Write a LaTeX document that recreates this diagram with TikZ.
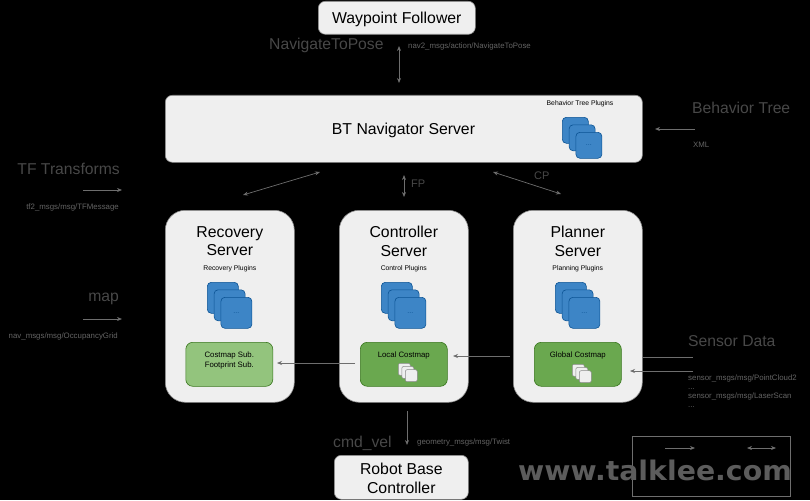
\documentclass[tikz,border=0pt]{standalone}
\usepackage{fontspec}
\setmainfont{Liberation Sans}
\newfontfamily\markfont{DejaVu Sans}
\usetikzlibrary{positioning, arrows.meta}
\definecolor{panel}{HTML}{EFEFEF}
\definecolor{panelline}{HTML}{8A8A8A}
\definecolor{plugin}{HTML}{3D85C6}
\definecolor{pluginline}{HTML}{0B5394}
\definecolor{costdark}{HTML}{6AA84F}
\definecolor{costlight}{HTML}{93C47D}
\definecolor{costline}{HTML}{38761D}
\definecolor{dimtext}{HTML}{484848}
\definecolor{smalltext}{HTML}{646464}
\definecolor{wire}{HTML}{6E6E6E}
\tikzstyle{panelbox} = [draw=panelline, fill=panel, line width=0.6pt, rectangle, rounded corners=7pt, inner sep=0pt, anchor=north west, align=center]
\tikzstyle{serverbox} = [panelbox, rounded corners=20pt, minimum width=129pt, minimum height=192pt]
\tikzstyle{costbox} = [draw=costline, line width=0.6pt, rectangle, rounded corners=7pt, anchor=north west, minimum width=87pt, minimum height=44pt]
\tikzstyle{plugincard} = [draw=pluginline, fill=plugin, line width=0.6pt, rectangle, rounded corners=4pt, inner sep=0pt, anchor=north west, font=\fontsize{7}{8}\selectfont, text=pluginline]
\tikzstyle{mapcard} = [draw=panelline, fill=panel, line width=0.5pt, rectangle, rounded corners=2pt, inner sep=0pt, anchor=north west, minimum size=12pt]
\tikzstyle{bigtitle} = [inner sep=0pt, align=center, text=black, font=\fontsize{15.8}{18.5}\selectfont]
\tikzstyle{smalltitle} = [inner sep=0pt, align=center, text=black, font=\fontsize{6.8}{9.5}\selectfont]
\tikzstyle{costtitle} = [smalltitle, font=\fontsize{7.8}{10}\selectfont]
\tikzstyle{dimlabel} = [inner sep=0pt, text=dimtext, font=\fontsize{15.7}{18}\selectfont]
\tikzstyle{msglabel} = [inner sep=0pt, text=smalltext, align=left, font=\fontsize{7.85}{9}\selectfont]
\tikzstyle{wireline} = [draw=wire, line width=0.7pt, -{Stealth[length=5pt,width=4pt]}]
\tikzstyle{twoway} = [wireline, {Stealth[length=5pt,width=4pt]}-{Stealth[length=5pt,width=4pt]}]
% three overlapping cards: name, x, y, size
\newcommand{\pluginstack}[4]{
	\node[plugincard, minimum width=#4pt, minimum height=#4pt] (#1a) at (#2,#3) {};
	\node[plugincard, minimum width=#4pt, minimum height=#4pt] (#1b) at (#2+6.8,#3+7.5) {};
	\node[plugincard, minimum width=#4pt, minimum height=#4pt] (#1c) at (#2+13.6,#3+15) {...};
}
\newcommand{\mapstack}[3]{
	\node[mapcard] (#1a) at (#2,#3) {};
	\node[mapcard] (#1b) at (#2+3.5,#3+3.2) {};
	\node[mapcard] (#1c) at (#2+7,#3+6.4) {};
}
\begin{document}
\begin{tikzpicture}[x=1pt,y=-1pt]
	\useasboundingbox (0,0) rectangle (810,500);
	\fill[black] (0,0) rectangle (810,500);

	% top and bottom boxes
	\node[panelbox, minimum width=157pt, minimum height=33pt] (follower) at (318,1) {};
	\node[bigtitle] (followertitle) at ([yshift=-2pt]follower.center) {Waypoint Follower};
	\node[panelbox, minimum width=477pt, minimum height=67pt] (navigator) at (165,95) {};
	\node[bigtitle] (navtitle) at (403.5,130) {BT Navigator Server};
	\node[smalltitle] (treeplugins) at (580,104) {Behavior Tree Plugins};
	\pluginstack{tree}{562}{117}{26}
	\node[panelbox, minimum width=134pt, minimum height=44pt] (base) at (334,455) {};
	\node[bigtitle] (basetitle) at ([yshift=-1pt]base.center) {Robot Base\\Controller};

	% servers
	\node[serverbox] (recovery) at (165,210) {};
	\node[serverbox] (controller) at (339,210) {};
	\node[serverbox] (planner) at (513,210) {};
	\node[bigtitle, below=16pt of recovery.north] (recoverytitle) {Recovery\\Server};
	\node[bigtitle, below=16pt of controller.north] (controllertitle) {Controller\\Server};
	\node[bigtitle, below=16pt of planner.north] (plannertitle) {Planner\\Server};
	\node[smalltitle, below=9pt of recoverytitle] {Recovery Plugins};
	\node[smalltitle, below=9pt of controllertitle] {Control Plugins};
	\node[smalltitle, below=9pt of plannertitle] {Planning Plugins};
	\pluginstack{rec}{207}{282}{31}
	\pluginstack{con}{381}{282}{31}
	\pluginstack{pla}{555}{282}{31}

	% costmaps
	\node[costbox, fill=costlight] (costsub) at (185.5,342) {};
	\node[costbox, fill=costdark] (localmap) at (360,342) {};
	\node[costbox, fill=costdark] (globalmap) at (534,342) {};
	\node[costtitle, below=9.5pt of costsub.north] {Costmap Sub.\\Footprint Sub.};
	\node[costtitle, below=9.5pt of localmap.north] {Local Costmap};
	\node[costtitle, below=9.5pt of globalmap.north] {Global Costmap};
	\mapstack{loc}{398}{363}
	\mapstack{glo}{572}{364}

	% labels
	\node[dimlabel, anchor=west] (lblpose) at (269,45) {NavigateToPose};
	\node[dimlabel, anchor=west] (lbltree) at (692,108) {Behavior Tree};
	\node[dimlabel, anchor=east] (lbltf) at (120,169) {TF Transforms};
	\node[dimlabel, anchor=east] (lblmap) at (119,299) {map};
	\node[dimlabel, anchor=west] (lblsensor) at (688,341) {Sensor Data};
	\node[dimlabel, anchor=west] (lblcmd) at (333,443) {cmd\_vel};
	\node[dimlabel, font=\fontsize{11}{13}\selectfont, anchor=west] (lblfp) at (411,184) {FP};
	\node[dimlabel, font=\fontsize{11}{13}\selectfont, anchor=west] (lblcp) at (534,176) {CP};
	\node[msglabel, anchor=west] (msgpose) at (408,46) {nav2\_msgs/action/NavigateToPose};
	\node[msglabel, anchor=west] (msgxml) at (693,145) {XML};
	\node[msglabel, anchor=east] (msgtf) at (119,207) {tf2\_msgs/msg/TFMessage};
	\node[msglabel, anchor=east] (msgmap) at (118,336) {nav\_msgs/msg/OccupancyGrid};
	\node[msglabel, anchor=north west] (msgsensor) at (688,374.5) {sensor\_msgs/msg/PointCloud2\\[0.2pt]...\\[0.2pt]sensor\_msgs/msg/LaserScan\\[0.2pt]...};
	\node[msglabel, anchor=west] (msgtwist) at (417,442) {geometry\_msgs/msg/Twist};

	% free ends of the connectors
	\coordinate (poseup) at (399,46);
	\coordinate (posedown) at (399,83);
	\coordinate (fpup) at (404,175);
	\coordinate (fpdown) at (404,197);
	\coordinate (recup) at (320,172);
	\coordinate (recdown) at (243,195);
	\coordinate (cpup) at (493,172);
	\coordinate (cpdown) at (561,194);
	\coordinate (tfstart) at (83,190);
	\coordinate (tfend) at (122,190);
	\coordinate (mapstart) at (83,319);
	\coordinate (mapend) at (122,319);
	\coordinate (xmlstart) at (695,129);
	\coordinate (xmlend) at (655,129);
	\coordinate (globstart) at (510,356);
	\coordinate (globend) at (453,356);
	\coordinate (locstart) at (355,363);
	\coordinate (locend) at (277,363);
	\coordinate (sensorin) at (643,357);
	\coordinate (sensorout) at (693,357);
	\coordinate (scanstart) at (693,371);
	\coordinate (scanend) at (630,371);
	\coordinate (cmdstart) at (407,411);
	\coordinate (cmdend) at (407,445);

	\draw[twoway] (poseup) -- (posedown);
	\draw[twoway] (fpup) -- (fpdown);
	\draw[twoway] (recup) -- (recdown);
	\draw[twoway] (cpup) -- (cpdown);
	\draw[wireline] (tfstart) -- (tfend);
	\draw[wireline] (mapstart) -- (mapend);
	\draw[wireline] (xmlstart) -- (xmlend);
	\draw[wireline] (globstart) -- (globend);
	\draw[wireline] (locstart) -- (locend);
	\draw[draw=wire, line width=0.7pt] (sensorin) -- (sensorout);
	\draw[wireline] (scanstart) -- (scanend);
	\draw[wireline] (cmdstart) -- (cmdend);

	% legend and site mark
	\node[draw=wire, line width=1pt, rectangle, anchor=north west, minimum width=158pt, minimum height=60pt] (legend) at (632,436) {};
	\coordinate (onestart) at (665,448);
	\coordinate (oneend) at (695,448);
	\coordinate (twostart) at (747,448);
	\coordinate (twoend) at (776,448);
	\draw[wireline] (onestart) -- (oneend);
	\draw[twoway] (twostart) -- (twoend);
	\node[inner sep=0pt, anchor=west, text=white!36!black, xscale=1.05, font=\markfont\bfseries\fontsize{27}{30}\selectfont] (site) at (518,470) {www.talklee.com};
\end{tikzpicture}
\end{document}
